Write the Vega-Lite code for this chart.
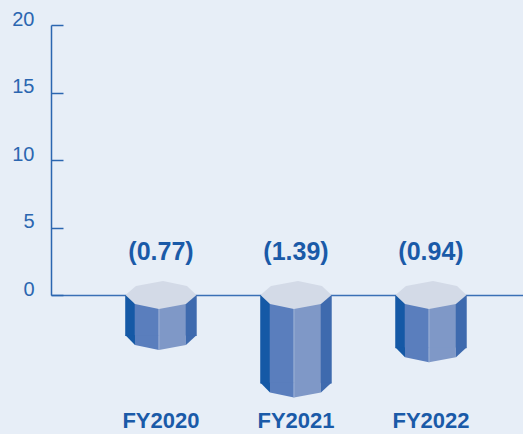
{
  "$schema": "https://vega.github.io/schema/vega-lite/v6.json",
  "width": 472,
  "height": 270,
  "autosize": {"type": "none"},
  "padding": {"left": 51, "top": 25, "right": 0, "bottom": 139},
  "background": "#e7eef7",
  "config": {"view": {"stroke": null}, "font": "Liberation Sans"},
  "data": {"values": [
    {"year": "FY2020", "value": -0.77, "label": "(0.77)"},
    {"year": "FY2021", "value": -1.39, "label": "(1.39)"},
    {"year": "FY2022", "value": -0.94, "label": "(0.94)"}
  ]},
  "encoding": {
    "x": {
      "field": "year", "type": "nominal",
      "scale": {"paddingInner": 0, "paddingOuter": 0.248, "align": 0.634},
      "axis": {"title": null, "ticks": false, "domainColor": "#3a70b6", "domainWidth": 1.5, "labelPadding": 115, "labelFontSize": 22, "labelFontWeight": "bold", "labelColor": "#1a5aa8", "labelAngle": 0, "labelBaseline": "top", "labelFont": "Liberation Sans"}
    }
  },
  "layer": [
    {
      "mark": {"type": "text", "dy": -35, "baseline": "alphabetic", "fontSize": 25, "fontWeight": "bold", "color": "#1a5aa8", "font": "Liberation Sans"},
      "encoding": {
        "y": {"datum": 0, "type": "quantitative", "scale": {"domain": [0, 20], "nice": false},
          "axis": {"values": [0, 5, 10, 15, 20], "title": null, "grid": false, "domainColor": "#2b66b0", "domainWidth": 1.5, "tickColor": "#2b66b0", "tickWidth": 1.5, "tickSize": -12, "labelPadding": 29, "labelFontSize": 20, "labelColor": "#2b66b0", "labelFont": "Liberation Sans", "labelOffset": -6, "labelFlush": false, "labelOverlap": false}},
        "text": {"field": "label"}
      }
    },
    {
      "encoding": {
        "y": {"field": "value", "type": "quantitative", "scale": {"type": "pow", "exponent": 1.3, "domain": [0, 3.28], "nice": false, "zero": false}, "axis": null}
      },
      "layer": [
        {"mark": {"type": "bar", "width": 10, "xOffset": -30.75, "color": "#1559a6"}, "encoding": {"y2": {"datum": 0}}},
        {"mark": {"type": "bar", "width": 24.5, "xOffset": -14, "color": "#5a7ebd"}, "encoding": {"y2": {"datum": 0}}},
        {"mark": {"type": "bar", "width": 27.5, "xOffset": 11.5, "color": "#7f98c7"}, "encoding": {"y2": {"datum": 0}}},
        {"mark": {"type": "bar", "width": 11, "xOffset": 30.25, "color": "#3e6aae"}, "encoding": {"y2": {"datum": 0}}},
        {"mark": {"type": "bar", "width": 1, "xOffset": -2, "color": "#9fb3d8"}, "encoding": {"y2": {"datum": 0}}},
        {"mark": {"type": "point", "shape": "M -0.986 -0.02 L -0.722 -0.02 L -0.722 0.25 Z", "size": 5184, "filled": true, "opacity": 1, "strokeWidth": 0, "color": "#1559a6"}},
        {"mark": {"type": "point", "shape": "M -0.722 -0.02 L -0.056 -0.02 L -0.056 0.389 L -0.722 0.25 Z", "size": 5184, "filled": true, "opacity": 1, "strokeWidth": 0, "color": "#5a7ebd"}},
        {"mark": {"type": "point", "shape": "M -0.056 -0.02 L 0.694 -0.02 L 0.694 0.25 L -0.056 0.389 Z", "size": 5184, "filled": true, "opacity": 1, "strokeWidth": 0, "color": "#7f98c7"}},
        {"mark": {"type": "point", "shape": "M 0.694 -0.02 L 0.986 -0.02 L 0.694 0.25 Z", "size": 5184, "filled": true, "opacity": 1, "strokeWidth": 0, "color": "#3e6aae"}},
        {"mark": {"type": "point", "shape": "M -0.07 -0.02 L -0.042 -0.02 L -0.042 0.389 L -0.07 0.385 Z", "size": 5184, "filled": true, "opacity": 1, "strokeWidth": 0, "color": "#9fb3d8"}},
        {"mark": {"type": "point", "shape": "M -0.986 0 L -0.694 -0.25 L 0.056 -0.389 L 0.722 -0.25 L 0.986 0 L 0.694 0.25 L -0.056 0.389 L -0.722 0.25 Z", "size": 5184, "filled": true, "opacity": 1, "strokeWidth": 0, "color": "#d3dae7"},
         "encoding": {"y": {"datum": 0, "type": "quantitative"}}}
      ]
    }
  ],
  "resolve": {"scale": {"y": "independent"}}
}
